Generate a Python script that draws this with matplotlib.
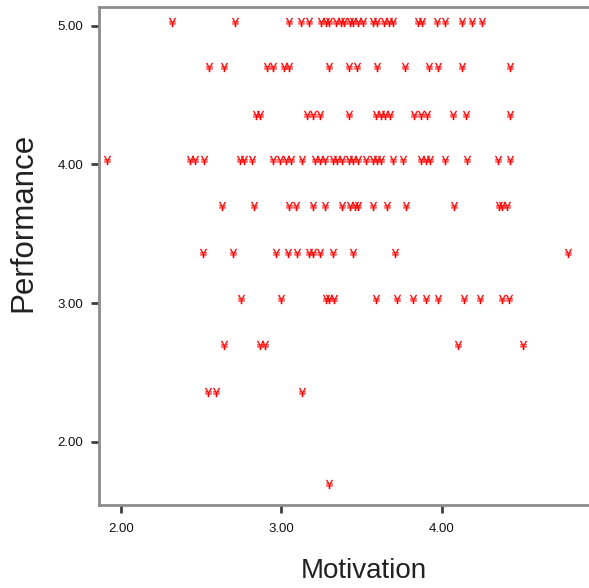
import matplotlib
matplotlib.use("Agg")
import matplotlib.pyplot as plt
import matplotlib.transforms as mtransforms
import numpy as np

plt.rcParams['font.family'] = ['Liberation Sans', 'DejaVu Sans']

# Motivation values for each Performance level
perf_levels = [5.00, 4.67, 4.33, 4.00, 3.67, 3.33, 3.00, 2.67, 2.33, 1.67]
motivation_rows = [
    [2.32, 2.71, 3.05, 3.12, 3.17, 3.25, 3.28, 3.30, 3.34, 3.37, 3.39, 3.43,
     3.45, 3.48, 3.51, 3.57, 3.60, 3.64, 3.67, 3.70, 3.85, 3.88, 3.97, 4.02,
     4.13, 4.19, 4.25],
    [2.55, 2.64, 2.91, 2.95, 3.02, 3.05, 3.30, 3.42, 3.47, 3.60, 3.77, 3.92,
     3.98, 4.13, 4.43],
    [2.84, 2.87, 3.16, 3.20, 3.24, 3.42, 3.59, 3.62, 3.65, 3.68, 3.83, 3.87,
     3.91, 4.07, 4.15, 4.43],
    [1.91, 2.43, 2.46, 2.52, 2.74, 2.77, 2.82, 2.95, 2.99, 3.03, 3.06, 3.13,
     3.21, 3.24, 3.27, 3.32, 3.35, 3.38, 3.42, 3.45, 3.48, 3.53, 3.57, 3.60,
     3.62, 3.70, 3.76, 3.87, 3.90, 3.93, 4.02, 4.16, 4.35, 4.43],
    [2.63, 2.83, 3.05, 3.09, 3.20, 3.27, 3.38, 3.43, 3.46, 3.48, 3.57, 3.66,
     3.78, 4.08, 4.36, 4.38, 4.41],
    [2.51, 2.70, 2.97, 3.04, 3.10, 3.17, 3.20, 3.24, 3.32, 3.45, 3.71, 4.79],
    [2.75, 3.00, 3.28, 3.30, 3.33, 3.59, 3.72, 3.82, 3.90, 3.98, 4.14, 4.24,
     4.38, 4.42],
    [2.64, 2.87, 2.90, 4.10, 4.51],
    [2.54, 2.59, 3.13],
    [3.30],
]

x_ticks = [2.0, 3.0, 4.0]
y_ticks = [2.0, 3.0, 4.0, 5.0]

motivation = np.concatenate([np.array(r) for r in motivation_rows])
performance = np.concatenate([np.full(len(r), p) for r, p in zip(motivation_rows, perf_levels)])

fig = plt.figure(figsize=(5.89, 5.88), dpi=100)
ax = fig.add_axes([0.1676, 0.1412, 0.8324, 0.8464])

# the marker glyph sits a little above its point, like the spss symbol font
shifted = mtransforms.offset_copy(ax.transData, fig=fig, x=0, y=4, units='dots')
ax.plot(motivation, performance, linestyle='none', marker='$¥$',
        color='red', markersize=6.5, markeredgewidth=0.2, transform=shifted)

ax.set_xlim(1.861, 4.92)
ax.set_ylim(1.544, 5.133)
ax.set_xticks(x_ticks)
ax.set_yticks(y_ticks)
ax.set_xticklabels([f"{t:.2f}" for t in x_ticks])
ax.set_yticklabels([f"{t:.2f}" for t in y_ticks])

for side in ['left', 'bottom', 'top']:
    ax.spines[side].set_color('#8c8c8c')
    ax.spines[side].set_linewidth(2)
ax.spines['right'].set_visible(False)

ax.tick_params(direction='out', length=6, width=2, color='#404040',
               labelsize=9.5, labelcolor='#111111')
ax.tick_params(axis='y', pad=5)
ax.tick_params(axis='x', pad=7)

ax.set_xlabel('Motivation', fontsize=20, color='#222222')
ax.set_ylabel('Performance', fontsize=22.5, color='#222222')
ax.xaxis.label.set_va('center')
ax.yaxis.label.set_va('center')
ax.xaxis.set_label_coords(0.541, -0.1325)
ax.yaxis.set_label_coords(-0.154, 0.568)

fig.savefig('out.png', dpi=100)
